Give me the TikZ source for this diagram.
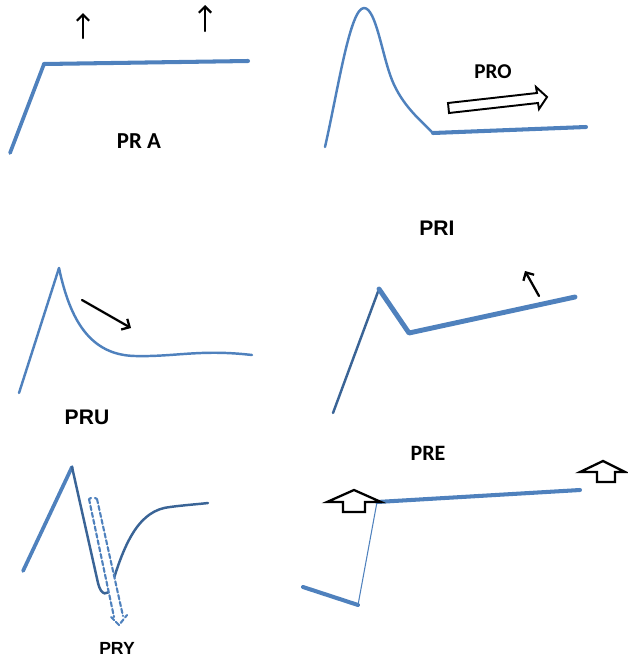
\documentclass[tikz,border=0pt]{standalone}
\usepackage{fontspec}
\setmainfont{Liberation Sans}
\newfontfamily\calibfont{Carlito}
\usetikzlibrary{arrows.meta}
\definecolor{curveblue}{HTML}{4F81BD}
\definecolor{darkcurve}{HTML}{3A6496}
\begin{document}
\begin{tikzpicture}[x=0.02cm, y=-0.02cm, >=Stealth, line cap=round, line join=round,
  thickblue/.style={draw=curveblue, line width=2.3pt},
  thinblue/.style={draw=curveblue, line width=1.4pt},
  pointer/.style={line width=1.3pt, black, -{Straight Barb[length=3.5pt, width=7pt, line width=1.3pt]}},
  blockarrow/.style={draw=black, fill=white, line width=1.3pt, line join=miter},
  lbl/.style={font=\bfseries, inner sep=0pt}]

\useasboundingbox (0,0) rectangle (627,656);

% PRA
\draw[thickblue, line width=2.1pt] (10,153) -- (44,64);
\draw[thickblue] (44,64) -- (248,61);
\draw[pointer] (83,38) -- (83,13);
\draw[pointer] (205,31) -- (205,5);
\node[lbl, font=\calibfont\bfseries\fontsize{13}{15}\selectfont] (pra) at (139,141) {PR A};

% PRO
\draw[thinblue] (325,147) .. controls (338,90) and (350,8) .. (364,8)
  .. controls (376,8) and (382,55) .. (392,80)
  .. controls (402,105) and (420,120) .. (433,133);
\draw[thickblue] (433,133) -- (586,127);
\draw[blockarrow, line width=1.1pt] (448,103) -- (537,93) -- (536,87) -- (547,97) -- (539,109) -- (538,103) -- (449,113) -- cycle;
\node[lbl, font=\calibfont\bfseries\fontsize{12}{14}\selectfont] (pro) at (493,72) {PRO};

\node[lbl, font=\bfseries\fontsize{12}{14}\selectfont] (pri) at (437,228) {PRI};

% PRU
\draw[thinblue] (19,393) -- (59,268);
\draw[thinblue] (59,268) .. controls (70,320) and (90,355) .. (135,356)
  .. controls (175,357) and (200,349) .. (252,355);
\draw[pointer] (82,300) -- (131,328);
\node[lbl, font=\bfseries\fontsize{12}{14}\selectfont] (pru) at (87,417) {PRU};

% PRI
\draw[darkcurve, line width=1.4pt] (333,413) -- (379,289);
\draw[thickblue, line width=2.8pt] (379,289) -- (409,333) -- (575,297);
\draw[pointer] (539,296) -- (525,271);

% PRY
\draw[thickblue, line width=2.1pt] (23,571) -- (72,467);
\draw[darkcurve, line width=1.4pt] (72,467) -- (98,583) .. controls (101,596) and (108,596) .. (111,588)
  .. controls (125,540) and (140,510) .. (170,507)
  .. controls (185,505) and (200,504) .. (208,503);
\fill[white] (89,499) -- (97,499) -- (123,616) -- (114,617) -- cycle;
\draw[curveblue, line width=1.2pt, dash pattern=on 2.5pt off 1.5pt]
  (89,499) -- (114,617) (97,499) -- (123,616) (89,499) -- (91,498) (95,498) -- (97,499)
  (111,617) -- (119,625) -- (127,615);
\node[lbl, font=\bfseries\fontsize{10}{12}\selectfont] (pry) at (117,648) {PRY};

% PRE
\draw[thickblue] (303,587) -- (358,605);
\draw[curveblue, line width=0.6pt] (358,605) -- (377,502);
\draw[thickblue] (377,502) -- (580,490);
\draw[blockarrow] (343,512) -- (343,502) -- (327,502) -- (354,490) -- (381,502) -- (365,502) -- (365,512) -- cycle;
\draw[blockarrow] (597,482) -- (597,472) -- (580,472) -- (603,461) -- (625,472) -- (615,472) -- (615,482) -- cycle;
\node[lbl, font=\calibfont\bfseries\fontsize{12.5}{14}\selectfont] (pre) at (428,453) {PRE};

\end{tikzpicture}
\end{document}
